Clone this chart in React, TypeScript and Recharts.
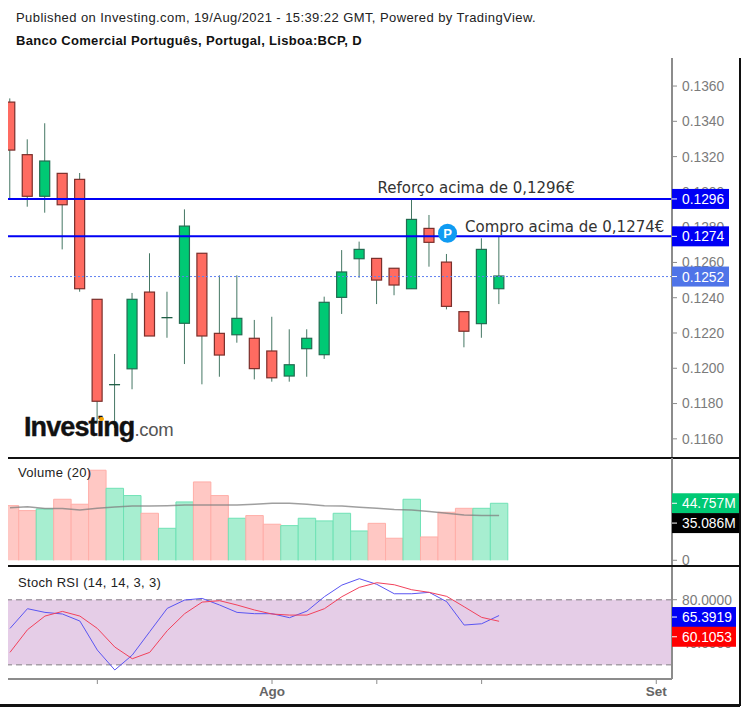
import React from "react";
import { ComposedChart, Bar, Line, XAxis, YAxis, ReferenceLine, ReferenceDot, ReferenceArea } from "recharts";

const W = 747;
const indexes = Array.from({ length: 29 }, (_, i) => i);
const opens = [0.13509, 0.13211, 0.12975, 0.13105, 0.13071, 0.12391, 0.11907, 0.11997, 0.12432, 0.12287, 0.12255, 0.12652, 0.12198, 0.1219, 0.1217, 0.12098, 0.11956, 0.12111, 0.12077, 0.12402, 0.12621, 0.12623, 0.12567, 0.12451, 0.12793, 0.12602, 0.12321, 0.12253, 0.12451];
const closes = [0.13237, 0.12975, 0.13175, 0.12927, 0.12451, 0.11813, 0.11907, 0.12391, 0.12183, 0.12287, 0.12806, 0.12183, 0.12075, 0.12283, 0.11998, 0.11946, 0.1202, 0.1217, 0.12374, 0.12546, 0.12674, 0.125, 0.12472, 0.12844, 0.12714, 0.12351, 0.1221, 0.12674, 0.12523];
const highs = [0.1353, 0.13298, 0.13389, 0.13105, 0.13107, 0.12391, 0.12081, 0.12427, 0.12652, 0.12434, 0.12901, 0.12652, 0.12527, 0.12527, 0.12274, 0.12292, 0.12221, 0.12221, 0.12406, 0.1267, 0.12718, 0.12623, 0.12567, 0.12964, 0.12869, 0.12648, 0.12321, 0.12737, 0.12746];
const lows = [0.12961, 0.12916, 0.12882, 0.12674, 0.12434, 0.1169, 0.11661, 0.11881, 0.12183, 0.12173, 0.12024, 0.11909, 0.11952, 0.12145, 0.11937, 0.11924, 0.11924, 0.11952, 0.12053, 0.12308, 0.12513, 0.12364, 0.12414, 0.12451, 0.12576, 0.12334, 0.12119, 0.12173, 0.12364];
const volumes = [42.9, 39.0, 40.3, 47.9, 44.0, 70.7, 56.5, 50.8, 36.9, 25.1, 45.8, 61.5, 50.8, 33.0, 35.1, 28.3, 27.2, 33.0, 30.9, 36.9, 23.0, 29.0, 17.3, 47.9, 18.3, 37.7, 40.8, 40.8, 44.757];
const volumeAverage = [41.3, 42.1, 40.6, 40.6, 39.5, 40.8, 41.9, 42.6, 42.6, 42.9, 43.4, 43.4, 43.4, 43.4, 44.0, 44.7, 44.7, 44.0, 42.9, 42.6, 41.6, 40.8, 39.8, 39.5, 38.2, 36.9, 35.6, 35.1, 35.086];
const stochK = [53.5, 71.7, 68.3, 66.8, 60.3, 33.5, 15.1, 28.9, 50.5, 72, 79.7, 81.2, 75.1, 68.3, 67.1, 67.1, 63.4, 69.5, 82.8, 93.5, 99.4, 94.2, 85.5, 85.5, 86.8, 78.2, 56.6, 57.8, 65.39];
const stochD = [31.4, 52.3, 64.9, 69.2, 64.9, 53.5, 36.3, 25.5, 31.4, 51.4, 67.1, 77.8, 79.1, 75.1, 70.5, 66.8, 65.8, 65.8, 71.7, 82.8, 91.4, 95.7, 93.8, 89.2, 86.8, 83.1, 73.5, 63.7, 60.1];

const priceTicks = [0.116, 0.118, 0.12, 0.122, 0.124, 0.126, 0.128, 0.13, 0.132, 0.134, 0.136];
const volumeTicks = [0];
const stochTicks = [40, 80];
const xTicks = [5, 15, 21, 27, 37];
const xTickLabels = ["", "Ago", "", "", "Set"];
const xDomain = [-0.115, 37.9];
const priceDomain = [0.11497, 0.13759];
const volumeDomain = [-4.5, 80.3];
const stochDomain = [6.8, 110.2];

const chartRows = indexes.map((i) => ({
  i,
  range: [lows[i], highs[i]],
  open: opens[i],
  close: closes[i],
  volume: volumes[i],
  average: volumeAverage[i],
  k: stochK[i],
  d: stochD[i],
}));

const AXIS = "#8c8c8c";
const LABEL = "#7b7b7b";
const FONT = "'Liberation Sans', Arial, sans-serif";

const Candle = (props: any) => {
  const { x, y, width, height, payload } = props;
  const [low, high] = payload.range;
  const perUnit = height / (high - low);
  const top = y + (high - Math.max(payload.open, payload.close)) * perUnit;
  const bottom = y + (high - Math.min(payload.open, payload.close)) * perUnit;
  const cx = x + width / 2;
  const up = payload.close >= payload.open;
  const flat = bottom - top < 1;
  return (
    <g>
      <line x1={cx} x2={cx} y1={y} y2={y + height} stroke="#245f49" strokeOpacity={0.85} strokeWidth={1} />
      {flat ? (
        <line x1={x} x2={x + width} y1={top} y2={top} stroke="#1d5c44" strokeWidth={1.3} />
      ) : (
        <rect x={x + 0.5} y={top} width={width - 1} height={bottom - top} fill={up ? "#00c974" : "#ff6b61"} stroke={up ? "#236b51" : "#7a2f2b"} strokeWidth={1.2} />
      )}
    </g>
  );
};

const VolumeBar = (props: any) => {
  const { x, y, width, height, payload } = props;
  const up = payload.close >= payload.open;
  return (
    <g>
      <rect x={x} y={y} width={width} height={height} fill={up ? "#a7eed0" : "#ffc8c4"} />
      <path d={`M${x} ${y + height}V${y}H${x + width}V${y + height}`} fill="none" stroke={up ? "#6fe2b5" : "#ffaea8"} strokeWidth={1} />
    </g>
  );
};

const tag = (label: string, fill: string, width: number, shift = 0) => (props: any) => {
  const { cx, cy } = props;
  return (
    <g>
      <rect x={cx} y={cy + shift - 10} width={width} height={20} fill={fill} />
      <line x1={cx} x2={cx + 5} y1={cy + shift} y2={cy + shift} stroke="#ffffff" />
      <text x={cx + 10} y={cy + shift + 5} fill="#ffffff" fontSize={13.8} fontFamily={FONT}>{label}</text>
    </g>
  );
};

const Note = (text: string) => (props: any) => (
  <text x={props.cx} y={props.cy} fill="#333333" fontSize={15} fontFamily="'DejaVu Sans', sans-serif">{text}</text>
);

const PinBadge = (props: any) => (
  <g>
    <circle cx={props.cx} cy={props.cy} r={9.5} fill="#0f9bf2" />
    <text x={props.cx} y={props.cy + 4.5} textAnchor="middle" fill="#ffffff" fontSize={13} fontWeight="bold" fontFamily={FONT}>P</text>
  </g>
);

const tickStyle = { fill: LABEL, fontSize: 13.8, fontFamily: FONT };
const abs = (left: number, top: number, h: number): React.CSSProperties => ({ position: "absolute", left, top, width: W, height: h });

function Overlay({ top, height, bottom, domain, children }: any) {
  return (
    <ComposedChart style={abs(0, top, height)} width={W} height={height} data={chartRows} margin={{ top: 0, right: 0, bottom, left: 8 }}>
      <XAxis dataKey="i" type="number" domain={xDomain} allowDataOverflow hide />
      <YAxis orientation="right" width={75} domain={domain} allowDataOverflow tick={false} axisLine={false} tickLine={false} />
      {children}
    </ComposedChart>
  );
}

export default function App() {
  return (
    <div style={{ position: "absolute", left: 0, top: 0, width: W, height: 707, background: "#fff", overflow: "hidden", fontFamily: FONT }}>
      <div style={{ position: "absolute", left: 16, top: 10, fontSize: 13, letterSpacing: 0.42, color: "#222", whiteSpace: "nowrap" }}>
        Published on Investing.com, 19/Aug/2021 - 15:39:22 GMT, Powered by TradingView.
      </div>
      <div style={{ position: "absolute", left: 16, top: 33, fontSize: 13, fontWeight: "bold", letterSpacing: 0.32, color: "#111", whiteSpace: "nowrap" }}>
        Banco Comercial Português, Portugal, Lisboa:BCP, D
      </div>

      <ComposedChart style={abs(0, 58, 400)} width={W} height={400} data={chartRows} margin={{ top: 0, right: 0, bottom: 1, left: 8 }}>
        <XAxis dataKey="i" type="number" domain={xDomain} allowDataOverflow hide />
        <YAxis orientation="right" width={75} domain={priceDomain} allowDataOverflow ticks={priceTicks} tickFormatter={(v: number) => v.toFixed(4)} tick={tickStyle} stroke={AXIS} strokeWidth={2} tickSize={5} tickMargin={5} tickLine={{ stroke: AXIS, strokeWidth: 1 }} interval={0} />
        <Bar dataKey="range" barSize={11} shape={Candle} isAnimationActive={false} />
        <ReferenceLine y={0.1296} stroke="#0000f5" strokeWidth={2} />
        <ReferenceLine y={0.12748} stroke="#0000f5" strokeWidth={2} />
        <ReferenceLine y={0.1252} stroke="#5f80f0" strokeWidth={1} strokeDasharray="2 2" />
        <ReferenceDot x={21.04} y={0.12995} r={0} ifOverflow="visible" shape={Note("Reforço acima de 0,1296€")} />
        <ReferenceDot x={26.05} y={0.12774} r={0} ifOverflow="visible" shape={Note("Compro acima de 0,1274€")} />
        <ReferenceDot x={25.05} y={0.12765} r={0} ifOverflow="visible" shape={PinBadge} />
      </ComposedChart>
      <Overlay top={58} height={400} bottom={1} domain={priceDomain}>
        <ReferenceDot x={37.9} y={0.1296} r={0} ifOverflow="visible" shape={tag("0.1296", "#0000f5", 57)} />
        <ReferenceDot x={37.9} y={0.12748} r={0} ifOverflow="visible" shape={tag("0.1274", "#0000f5", 57)} />
        <ReferenceDot x={37.9} y={0.1252} r={0} ifOverflow="visible" shape={tag("0.1252", "#4f74e8", 57)} />
      </Overlay>

      <div style={{ position: "absolute", left: 24, top: 410, height: 34, whiteSpace: "nowrap", lineHeight: "34px" }}>
        <span style={{ fontSize: 27, fontWeight: "bold", color: "#111", letterSpacing: -0.9, WebkitTextStroke: "0.4px #111" }}>Investing</span>
        <span style={{ fontSize: 18.5, color: "#555", letterSpacing: -0.3 }}>.com</span>
      </div>
      <div style={{ position: "absolute", left: 99, top: 417, width: 5, height: 4, borderRadius: 2, background: "#f5a300" }} />

      <div style={{ position: "absolute", left: 8, top: 457, width: 732, height: 2, background: "#111" }} />
      <ComposedChart style={abs(0, 458, 108)} width={W} height={108} data={chartRows} margin={{ top: 0, right: 0, bottom: 0, left: 8 }}>
        <XAxis dataKey="i" type="number" domain={xDomain} allowDataOverflow hide />
        <YAxis orientation="right" width={75} domain={volumeDomain} allowDataOverflow ticks={volumeTicks} tick={tickStyle} stroke={AXIS} strokeWidth={2} tickSize={5} tickMargin={5} tickLine={{ stroke: AXIS, strokeWidth: 1 }} interval={0} />
        <Bar dataKey="volume" barSize={17.46} shape={VolumeBar} isAnimationActive={false} />
        <Line dataKey="average" stroke="#7f7f7f" strokeOpacity={0.75} strokeWidth={1.5} dot={false} isAnimationActive={false} />
      </ComposedChart>
      <Overlay top={458} height={108} bottom={0} domain={volumeDomain}>
        <ReferenceDot x={37.9} y={44.757} r={0} ifOverflow="visible" shape={tag("44.757M", "#00c974", 67)} />
        <ReferenceDot x={37.9} y={35.086} r={0} ifOverflow="visible" shape={tag("35.086M", "#000000", 67, 7.5)} />
      </Overlay>
      <div style={{ position: "absolute", left: 18, top: 465, fontSize: 13, letterSpacing: 0.3, color: "#222" }}>Volume (20)</div>

      <div style={{ position: "absolute", left: 8, top: 565, width: 732, height: 2, background: "#111" }} />
      <ComposedChart style={abs(0, 567, 137)} width={W} height={137} data={chartRows} margin={{ top: 0, right: 0, bottom: 0, left: 8 }}>
        <XAxis dataKey="i" type="number" domain={xDomain} allowDataOverflow ticks={xTicks} interval={0} tickFormatter={(v: number) => xTickLabels[xTicks.indexOf(v)]} tick={{ fill: "#666666", fontSize: 13.5, fontWeight: "bold", fontFamily: FONT }} stroke={AXIS} strokeWidth={2} tickSize={5} tickLine={{ stroke: AXIS, strokeWidth: 1 }} height={25} />
        <YAxis orientation="right" width={75} domain={stochDomain} allowDataOverflow ticks={stochTicks} tickFormatter={(v: number) => v.toFixed(4)} tick={tickStyle} stroke={AXIS} strokeWidth={2} tickSize={5} tickMargin={5} tickLine={{ stroke: AXIS, strokeWidth: 1 }} interval={0} />
        <ReferenceArea y1={20} y2={80} fill="#e5cde7" fillOpacity={1} stroke="none" />
        <ReferenceLine y={80} stroke="#a79fa8" strokeWidth={1.5} strokeDasharray="6 4" />
        <ReferenceLine y={20} stroke="#a79fa8" strokeWidth={1.5} strokeDasharray="6 4" />
        <Line dataKey="k" stroke="#5a55f2" strokeWidth={1} dot={false} isAnimationActive={false} />
        <Line dataKey="d" stroke="#f2425c" strokeWidth={1} dot={false} isAnimationActive={false} />
      </ComposedChart>
      <Overlay top={567} height={137} bottom={25} domain={stochDomain}>
        <ReferenceDot x={37.9} y={65.39} r={0} ifOverflow="visible" shape={tag("65.3919", "#0000f5", 64, 1.5)} />
        <ReferenceDot x={37.9} y={60.1} r={0} ifOverflow="visible" shape={tag("60.1053", "#ff0000", 64, 15.5)} />
      </Overlay>
      <div style={{ position: "absolute", left: 18, top: 575, fontSize: 13, letterSpacing: 0.3, color: "#222" }}>Stoch RSI (14, 14, 3, 3)</div>

      <div style={{ position: "absolute", left: 739, top: 58, width: 1.5, height: 648, background: "#111" }} />
      <div style={{ position: "absolute", left: 0, top: 704, width: 740, height: 3, background: "#111" }} />
    </div>
  );
}
